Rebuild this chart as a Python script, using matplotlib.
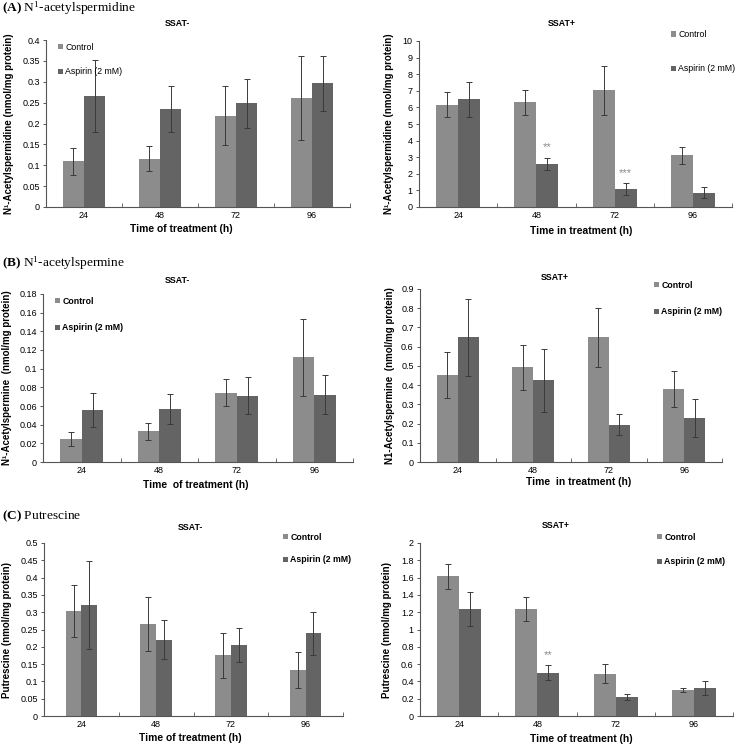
import matplotlib
matplotlib.use("Agg")
import matplotlib.pyplot as plt
import numpy as np
from matplotlib.ticker import MultipleLocator, FixedLocator, FuncFormatter

W, H = 737, 746

hours = ["24", "48", "72", "96"]

# (A) N1-acetylspermidine
a_minus_ctrl = [0.109, 0.116, 0.219, 0.261]
a_minus_ctrl_err = [0.033, 0.029, 0.070, 0.100]
a_minus_asp = [0.266, 0.234, 0.248, 0.296]
a_minus_asp_err = [0.087, 0.055, 0.059, 0.065]

a_plus_ctrl = [6.16, 6.32, 7.02, 3.12]
a_plus_ctrl_err = [0.75, 0.75, 1.45, 0.52]
a_plus_asp = [6.48, 2.60, 1.07, 0.85]
a_plus_asp_err = [1.03, 0.38, 0.35, 0.33]
a_plus_stars = ["", "**", "***", ""]

# (B) N1-acetylspermine
b_minus_ctrl = [0.025, 0.033, 0.074, 0.112]
b_minus_ctrl_err = [0.0075, 0.009, 0.0145, 0.041]
b_minus_asp = [0.0555, 0.057, 0.0712, 0.072]
b_minus_asp_err = [0.018, 0.016, 0.020, 0.021]

b_plus_ctrl = [0.453, 0.493, 0.648, 0.380]
b_plus_ctrl_err = [0.120, 0.117, 0.154, 0.092]
b_plus_asp = [0.648, 0.425, 0.193, 0.230]
b_plus_asp_err = [0.200, 0.165, 0.055, 0.100]

# (C) Putrescine
c_minus_ctrl = [0.303, 0.267, 0.176, 0.132]
c_minus_ctrl_err = [0.076, 0.078, 0.065, 0.052]
c_minus_asp = [0.321, 0.221, 0.206, 0.239]
c_minus_asp_err = [0.127, 0.057, 0.049, 0.063]

c_plus_ctrl = [1.615, 1.242, 0.488, 0.300]
c_plus_ctrl_err = [0.145, 0.138, 0.110, 0.020]
c_plus_asp = [1.235, 0.500, 0.223, 0.319]
c_plus_asp_err = [0.200, 0.085, 0.037, 0.080]
c_plus_stars = ["", "**", "", ""]

CTRL_COLOR = "#8c8c8c"
ASP_COLOR = "#646464"
SANS = "Liberation Sans"
SERIF = "Liberation Serif"

plt.rcParams["font.family"] = SANS
plt.rcParams["mathtext.fontset"] = "custom"
plt.rcParams["mathtext.rm"] = SERIF
plt.rcParams["mathtext.it"] = SERIF + ":italic"
plt.rcParams["mathtext.bf"] = SERIF + ":bold"

fig = plt.figure(figsize=(W / 100, H / 100), dpi=100)


def px(x, y):
    """pixel (from top-left) -> figure fraction"""
    return x / W, 1 - y / H


def rect(x0, y0, x1, y1):
    return [x0 / W, 1 - y1 / H, (x1 - x0) / W, (y1 - y0) / H]


def panel(box, ctrl, ctrl_err, asp, asp_err, ytop, ystep, bw,
          ylabel, ylabel_x, xlabel, xlabel_xy, title, title_xy,
          leg_xy, leg_space, leg_bold, stars=None):
    ax = fig.add_axes(rect(*box))
    x = np.arange(1, len(hours) + 1)
    ekw = dict(ecolor="#3a3a3a", elinewidth=0.7, capsize=2, capthick=0.7)
    b1 = ax.bar(x - bw / 2, ctrl, bw, yerr=ctrl_err, color=CTRL_COLOR,
                error_kw=ekw, label="Control")
    b2 = ax.bar(x + bw / 2, asp, bw, yerr=asp_err, color=ASP_COLOR,
                error_kw=ekw, label="Aspirin (2 mM)")
    if stars is not None:
        for xi, v, e, s in zip(x, asp, asp_err, stars):
            if s:
                ax.text(xi + bw / 2, v + e + ytop * 0.03, s, ha="center",
                        va="bottom", fontsize=8, color="#8a8a8a")

    ax.set_xlim(0.5, len(hours) + 0.5)
    ax.set_ylim(0, ytop)
    ax.yaxis.set_major_locator(MultipleLocator(ystep))
    ax.yaxis.set_major_formatter(FuncFormatter(lambda v, p: f"{round(v, 4):g}"))
    ax.set_xticks(x)
    ax.set_xticklabels(hours)
    ax.xaxis.set_minor_locator(FixedLocator(np.arange(1.5, len(hours) + 1, 1)))
    ax.tick_params(axis="x", which="major", length=0, pad=3, labelsize=6.5)
    ax.tick_params(axis="x", which="minor", length=3, direction="in",
                   color="#555555")
    ax.tick_params(axis="y", length=2.5, width=0.7, color="#555555",
                   labelsize=6.5, pad=2)
    for sp in ("top", "right"):
        ax.spines[sp].set_visible(False)
    for sp in ("left", "bottom"):
        ax.spines[sp].set_color("#555555")
        ax.spines[sp].set_linewidth(0.8)

    ax.set_ylabel(ylabel, fontsize=7, fontweight="bold")
    ax.yaxis.set_label_coords((ylabel_x - box[0]) / (box[2] - box[0]), 0.5)
    fig.text(*px(*xlabel_xy), xlabel, ha="center", va="center",
             fontsize=7.4, fontweight="bold")
    fig.text(*px(*title_xy), title, ha="center", va="center",
             fontsize=6.3, fontweight="bold")

    fig.legend(handles=[b1, b2], loc="upper left",
               bbox_to_anchor=px(*leg_xy), frameon=False,
               handlelength=0.55, handleheight=0.55, handletextpad=0.3,
               borderpad=0, borderaxespad=0, labelspacing=leg_space,
               prop=dict(family=SANS, size=6.3,
                         weight="bold" if leg_bold else "normal"))
    return ax


def header(y, letter, name):
    fig.text(*px(2, y), r"$\mathbf{(" + letter + r")}$ " + name,
             ha="left", va="center", fontsize=9.6, family=SERIF)


# (A)
header(8, "A", r"N$^1$-acetylspermidine")
panel((46, 40, 350, 207), a_minus_ctrl, a_minus_ctrl_err, a_minus_asp,
      a_minus_asp_err, 0.4, 0.05, 0.28,
      "N\u00b9-Acetylspermidine (nmol/mg protein)", 14,
      "Time of treatment (h)", (181, 229), "SSAT-", (177, 24),
      (58, 42.5), 1.8, False)
panel((419, 41, 732, 207), a_plus_ctrl, a_plus_ctrl_err, a_plus_asp,
      a_plus_asp_err, 10, 1, 0.28,
      "N\u00b9-Acetylspermidine (nmol/mg protein)", 394,
      "Time in treatment (h)", (581, 231), "SSAT+", (562, 24),
      (671, 30), 2.9, False, stars=a_plus_stars)

# (B)
header(263, "B", r"N$^1$-acetylspermine")
panel((43, 294, 353, 462), b_minus_ctrl, b_minus_ctrl_err, b_minus_asp,
      b_minus_asp_err, 0.18, 0.02, 0.28,
      "N\u00b9-Acetylspermine  (nmol/mg protein)", 12,
      "Time  of treatment (h)", (196, 485), "SSAT-", (177, 281),
      (55, 296.5), 2.05, True)
panel((420, 289, 722, 462), b_plus_ctrl, b_plus_ctrl_err, b_plus_asp,
      b_plus_asp_err, 0.9, 0.1, 0.28,
      "N1-Acetylspermine  (nmol/mg protein)", 395,
      "Time  in treatment (h)", (579, 482), "SSAT+", (555, 278),
      (654, 280.5), 2.05, True)

# (C)
header(516, "C", "Putrescine")
panel((44, 543, 343, 716), c_minus_ctrl, c_minus_ctrl_err, c_minus_asp,
      c_minus_asp_err, 0.5, 0.05, 0.21,
      "Putrescine (nmol/mg protein)", 12,
      "Time of treatment (h)", (190, 738), "SSAT-", (190, 527),
      (283, 532.5), 1.6, True)
panel((420, 543, 733, 716), c_plus_ctrl, c_plus_ctrl_err, c_plus_asp,
      c_plus_asp_err, 2, 0.2, 0.28,
      "Putrescine (nmol/mg protein)", 392,
      "Time of treatment (h)", (581, 739), "SSAT+", (556, 526),
      (657, 532.5), 1.8, True, stars=c_plus_stars)

fig.savefig("out.png", dpi=100)
